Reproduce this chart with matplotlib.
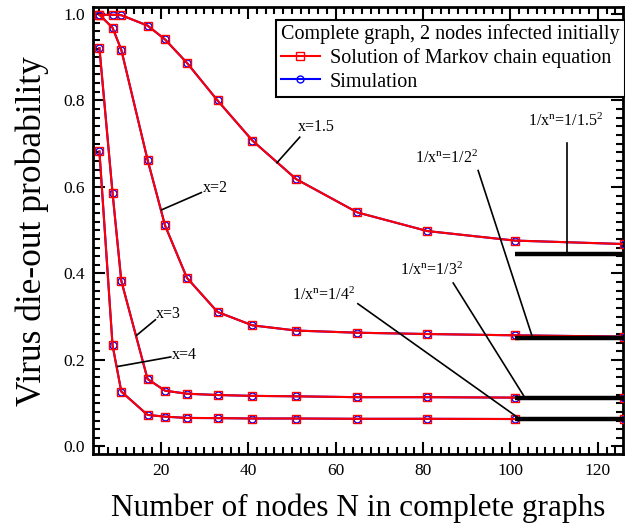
import numpy as np
import matplotlib
matplotlib.use("Agg")
from matplotlib import pyplot as plt
from matplotlib.ticker import MultipleLocator

plt.rcParams['font.family'] = ['Liberation Serif', 'DejaVu Serif']
plt.rcParams['mathtext.fontset'] = 'custom'
plt.rcParams['mathtext.rm'] = 'Liberation Serif'
plt.rcParams['mathtext.it'] = 'Liberation Serif:italic'

# number of nodes in the complete graph
N = [6, 9, 11, 17, 21, 26, 33, 41, 51, 65, 81, 101, 126]

# die-out probability from the Markov chain equation
markov_15 = [0.998, 0.998, 0.997, 0.973, 0.941, 0.887, 0.800, 0.707, 0.618, 0.541, 0.498, 0.476, 0.468]
markov_2 = [0.998, 0.968, 0.917, 0.663, 0.511, 0.390, 0.311, 0.280, 0.268, 0.263, 0.260, 0.257, 0.254]
markov_3 = [0.921, 0.586, 0.383, 0.156, 0.129, 0.122, 0.119, 0.117, 0.116, 0.114, 0.114, 0.113, 0.111]
markov_4 = [0.682, 0.234, 0.127, 0.073, 0.069, 0.066, 0.0656, 0.0647, 0.0647, 0.064, 0.064, 0.0635, 0.0633]

# die-out probability from simulation
sim_15 = [0.998, 0.998, 0.997, 0.973, 0.941, 0.887, 0.800, 0.707, 0.618, 0.541, 0.498, 0.476, 0.468]
sim_2 = [0.998, 0.968, 0.917, 0.663, 0.511, 0.390, 0.311, 0.280, 0.268, 0.263, 0.260, 0.257, 0.254]
sim_3 = [0.921, 0.586, 0.383, 0.156, 0.129, 0.122, 0.119, 0.117, 0.116, 0.114, 0.114, 0.113, 0.111]
sim_4 = [0.682, 0.234, 0.127, 0.073, 0.069, 0.066, 0.0656, 0.0647, 0.0647, 0.064, 0.064, 0.0635, 0.0633]

# infection rate x for each curve and its label position / leader line
x_vals = [1.5, 2, 3, 4]
curve_labels = ["x=1.5", "x=2", "x=3", "x=4"]
label_pos = [(55.5, 0.739), (32.4, 0.597), (21.8, 0.307), (25.4, 0.212)]
leader_from = [(51.8, 0.715), (29.3, 0.587), (18.8, 0.293), (22.3, 0.207)]
leader_to = [(46.6, 0.656), (20.2, 0.547), (14.5, 0.257), (10.2, 0.185)]

# asymptotic limits 1/x^n with n = 2 initially infected nodes
n_inf = 2
limit_bases = ["1.5", "2", "3", "4"]
limit_text_pos = [(112.6, 0.752), (85.3, 0.667), (81.9, 0.408), (57.3, 0.350)]
limit_leader_from = [(113.0, 0.701), (92.6, 0.638), (86.9, 0.378), (65.1, 0.330)]
limit_leader_to_x = [113.0, 105.1, 103.4, 102.3]
limit_start = 101

fig = plt.figure(figsize=(6.25, 5.25), dpi=100)
ax = fig.add_axes([0.1493, 0.1347, 0.8480, 0.852])

sims = [sim_15, sim_2, sim_3, sim_4]
markovs = [markov_15, markov_2, markov_3, markov_4]
for i in range(4):
    ax.plot(N, sims[i], color="#0000ff", lw=1.5, marker="o", ms=5, mfc="none",
            mec="#0000ff", mew=1.0, label="Simulation" if i == 0 else None, zorder=3)
for i in range(4):
    ax.plot(N, markovs[i], color="#ff0000", lw=1.5, marker="s", ms=6.2, mfc="none",
            mec="#ff0000", mew=1.0,
            label="Solution of Markov chain equation" if i == 0 else None, zorder=4)

# curve labels with leader lines
for i in range(4):
    ax.text(label_pos[i][0], label_pos[i][1], curve_labels[i], fontsize=11.5,
            ha="center", va="center")
    ax.plot([leader_from[i][0], leader_to[i][0]], [leader_from[i][1], leader_to[i][1]],
            color="black", lw=1.2, zorder=5)

# thick lines at the limits 1/x^n
for i in range(4):
    lim = 1.0 / x_vals[i] ** n_inf
    ax.plot([limit_start, N[-1]], [lim, lim], color="black", lw=3.2, zorder=6,
            solid_capstyle="butt")
    ax.plot([limit_leader_from[i][0], limit_leader_to_x[i]], [limit_leader_from[i][1], lim],
            color="black", lw=1.2, zorder=6)
    ax.text(limit_text_pos[i][0], limit_text_pos[i][1],
            r"1/x$^{\rm n}$=1/" + limit_bases[i] + r"$^{\rm 2}$", fontsize=11.5,
            ha="center", va="center")

ax.set_xlim(4.6, 125.8)
ax.set_ylim(-0.018, 1.016)
ax.xaxis.set_major_locator(MultipleLocator(20))
ax.xaxis.set_minor_locator(MultipleLocator(2))
ax.yaxis.set_major_locator(MultipleLocator(0.2))
ax.yaxis.set_minor_locator(MultipleLocator(0.02))
ax.yaxis.set_major_formatter(matplotlib.ticker.FormatStrFormatter("%.1f"))
ax.tick_params(which="both", direction="in", top=True, right=True, width=1.5,
               labelsize=12.5)
ax.tick_params(which="major", length=8.5, pad=6)
ax.tick_params(which="minor", length=5)
for s in ax.spines.values():
    s.set_linewidth(2)

ax.set_xlabel("Number of nodes N in complete graphs", fontsize=22.5, labelpad=11)
ax.set_ylabel("Virus die-out probability", fontsize=25.5, labelpad=10)

h, l = ax.get_legend_handles_labels()
leg = ax.legend(h[::-1], l[::-1], title="Complete graph, 2 nodes infected initially",
                loc="upper right", bbox_to_anchor=(1.003, 0.972), fontsize=14.5,
                title_fontsize=14.5, fancybox=False, edgecolor="black",
                framealpha=1, borderaxespad=0, handlelength=1.9, labelspacing=0.2,
                borderpad=0.25, handletextpad=0.5)
leg._legend_box.align = "left"
leg.get_frame().set_linewidth(1.5)

fig.savefig("out.png", dpi=100)
